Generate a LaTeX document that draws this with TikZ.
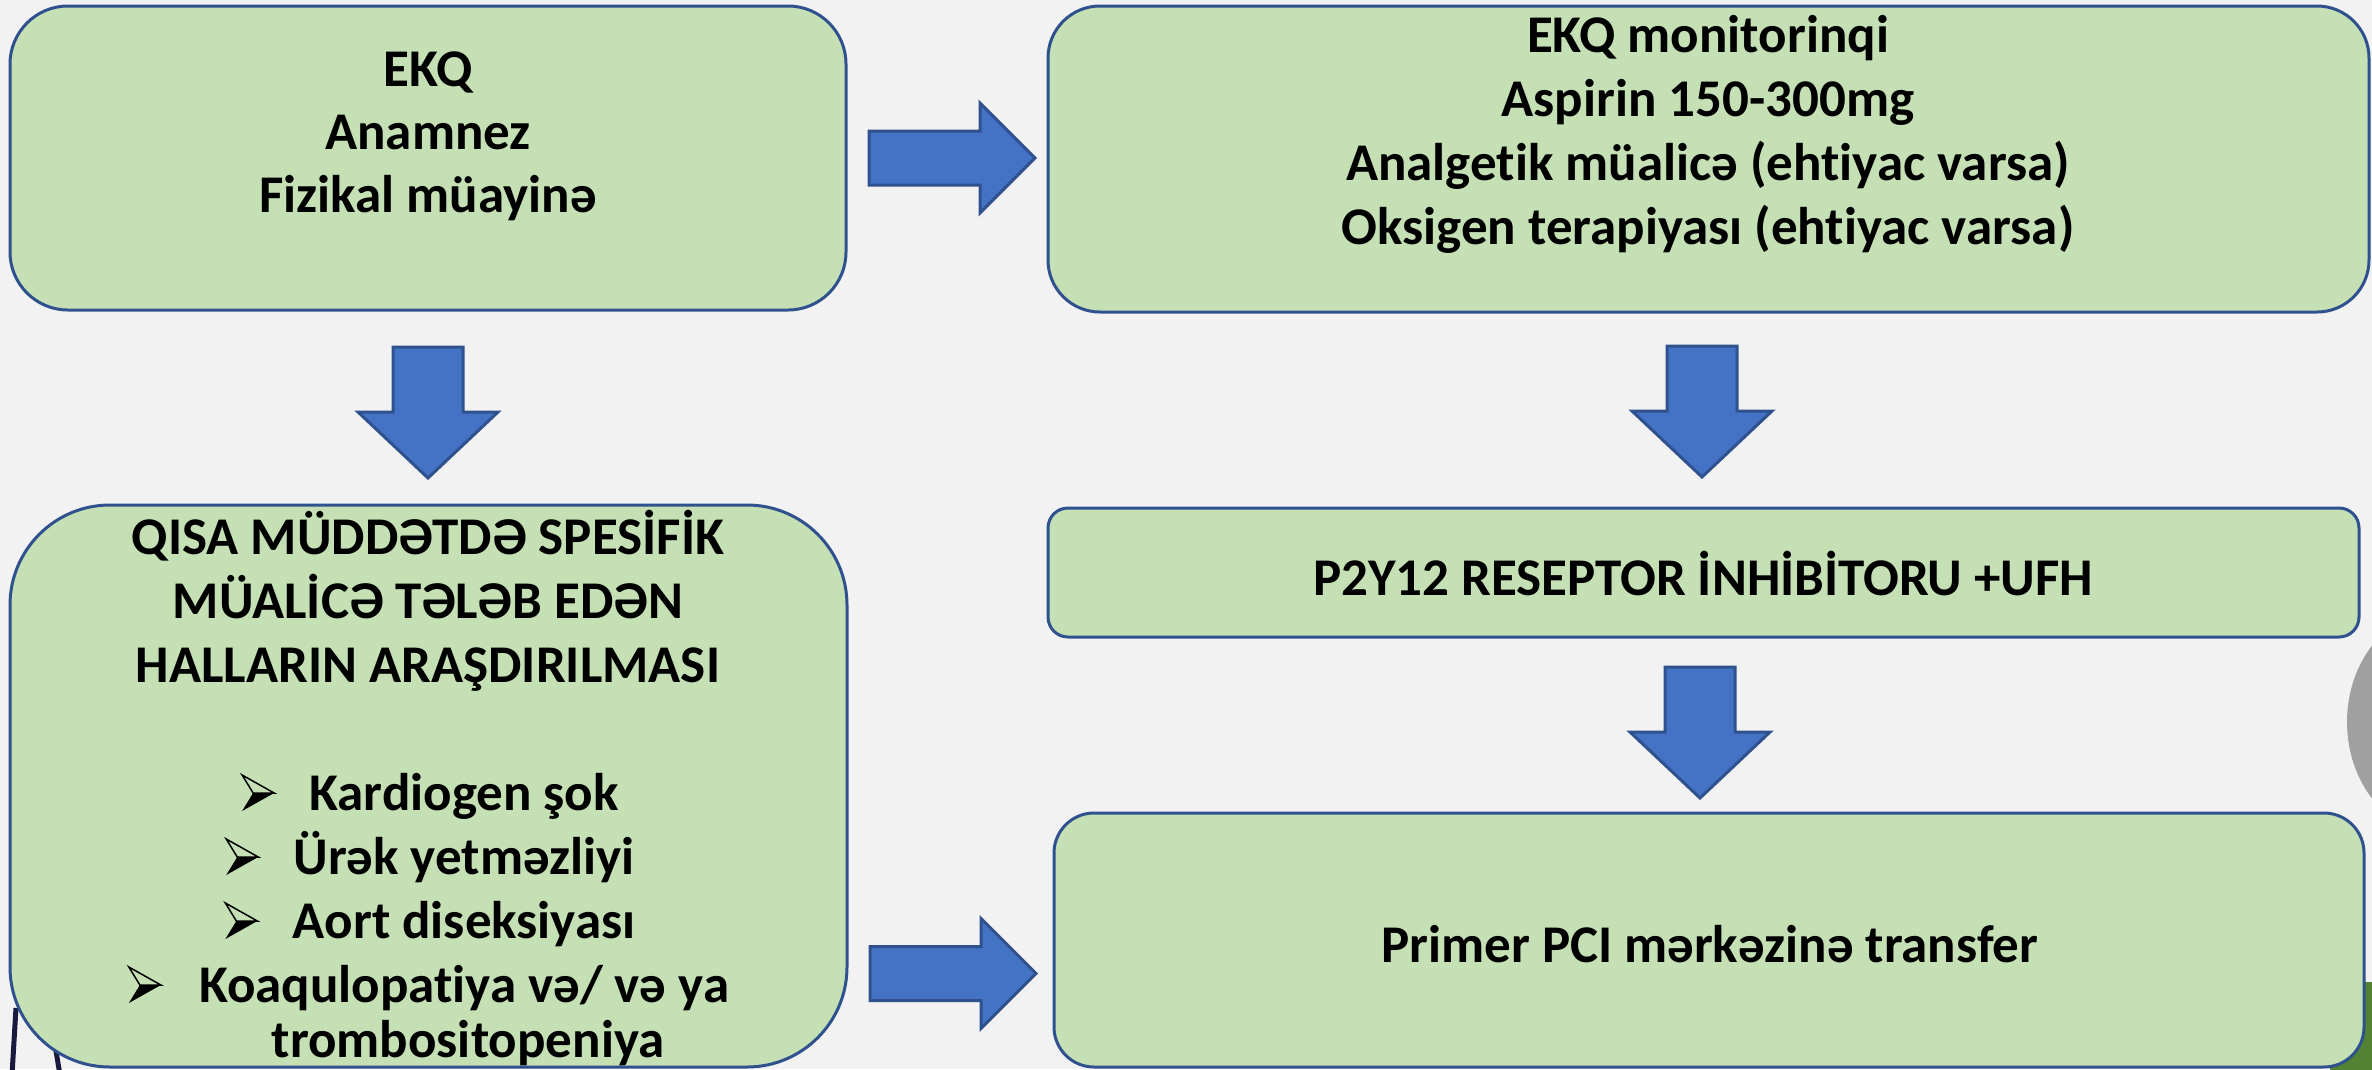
\documentclass[tikz,border=0pt]{standalone}
\usepackage{fontspec}
\setmainfont{Carlito}[Ligatures={NoCommon,NoRare,NoContextual}]
\usetikzlibrary{calc}
\definecolor{bg}{HTML}{F2F2F2}
\definecolor{boxfill}{HTML}{C5E0B4}
\definecolor{boxline}{HTML}{2F528F}
\definecolor{arrfill}{HTML}{4472C4}
\definecolor{grayblob}{HTML}{A0A0A0}
\definecolor{darkgreen}{HTML}{548235}
\definecolor{darkstroke}{HTML}{1A1A40}
\tikzset{
  box/.style={draw=boxline, fill=boxfill, line width=3pt, inner sep=0pt},
  lbl/.style={anchor=base, inner sep=0pt, font=\fontsize{53}{64}\selectfont\bfseries},
  blockarrow/.style={draw=boxline, fill=arrfill, line width=3pt, line join=miter},
  arrbullet/.pic={
    \fill[black] (0,18) -- (11,0) -- (32,0) -- cycle;
    \draw[black, line width=1.5pt, line join=miter, fill=boxfill] (0,-18) -- (32,0) -- (11,0) -- cycle;
  },
  rarrow/.pic={
    \draw[blockarrow] (0,-27) -- (111,-27) -- (111,-55) -- (166,0) -- (111,55) -- (111,27) -- (0,27) -- cycle;
  },
  darrow/.pic={
    \draw[blockarrow] (-35,0) -- (35,0) -- (35,65) -- (70,65) -- (0,131) -- (-70,65) -- (-35,65) -- cycle;
  }
}
\begin{document}
\begin{tikzpicture}[x=1pt,y=-1pt]
\useasboundingbox (0,0) rectangle (2372,1069);
\fill[bg] (0,0) rectangle (2372,1069);
% background fragments
\begin{scope}
\clip (0,0) rectangle (2372,1069);
\fill[grayblob] (2440,722) ellipse [x radius=93, y radius=112];
\fill[darkgreen] (2330,982) rectangle (2380,1075);
\draw[darkstroke, line width=5pt] (16,1008) -- (12,1075);
\draw[darkstroke, line width=5pt] (55,1045) -- (60,1075);
\end{scope}

% boxes
\node[box, minimum width=836, minimum height=304, rounded corners=58pt] (b1) at (428,158) {};
\node[box, minimum width=1321, minimum height=306, rounded corners=52pt] (b2) at (1708.5,159) {};
\node[box, minimum width=837, minimum height=562, rounded corners=100pt] (b3) at (428.5,786) {};
\node[box, minimum width=1311, minimum height=129, rounded corners=20pt] (b4) at (1703.5,572.5) {};
\node[box, minimum width=1310, minimum height=254, rounded corners=40pt] (b5) at (1709,940) {};

% block arrows
\coordinate (ar1) at (869,158);
\coordinate (ar2) at (870,973.5);
\coordinate (ad1) at (428,347);
\coordinate (ad2) at (1702,346);
\coordinate (ad3) at (1700,667);
\pic at (ar1) {rarrow};
\pic at (ar2) {rarrow};
\pic at (ad1) {darrow};
\pic at (ad2) {darrow};
\pic at (ad3) {darrow};

% box 1 text
\node[lbl] (t11) at (428,86) {EKQ};
\node[lbl] (t12) at (428,149) {Anamnez};
\node[lbl] (t13) at (428,212) {Fizikal müayinə};

% box 2 text
\node[lbl] (t21) at (1708,52) {EKQ monitorinqi};
\node[lbl] (t22) at (1708,116) {Aspirin 150-300mg};
\node[lbl] (t23) at (1708,180) {Analgetik müalicə (ehtiyac varsa)};
\node[lbl] (t24) at (1708,244) {Oksigen terapiyası (ehtiyac varsa)};

% box 3 text
\node[lbl] (q1) at (428,554) {QISA MÜDDƏTDƏ SPESİFİK};
\node[lbl] (q2) at (428,618) {MÜALİCƏ TƏLƏB EDƏN};
\node[lbl] (q3) at (428,682) {HALLARIN ARAŞDIRILMASI};
\node[lbl] (k1) at (464,810) {Kardiogen şok};
\node[lbl] (k2) at (464,874) {Ürək yetməzliyi};
\node[lbl] (k3) at (464,938) {Aort diseksiyası};
\node[lbl] (k4) at (464,1002) {Koaqulopatiya və/ və ya};
\node[lbl] (k5) at (468,1057) {trombositopeniya};
\pic at ($(k1.base west)+(-67,-17)$) {arrbullet};
\pic at ($(k2.base west)+(-67,-17)$) {arrbullet};
\pic at ($(k3.base west)+(-67,-17)$) {arrbullet};
\pic at ($(k4.base west)+(-70,-17)$) {arrbullet};

% box 4 and 5 text
\node[lbl] (t4) at (1703,595) {P2Y12 RESEPTOR İNHİBİTORU +UFH};
\node[lbl] (t5) at (1710,962) {Primer PCI mərkəzinə transfer};
\end{tikzpicture}
\end{document}
